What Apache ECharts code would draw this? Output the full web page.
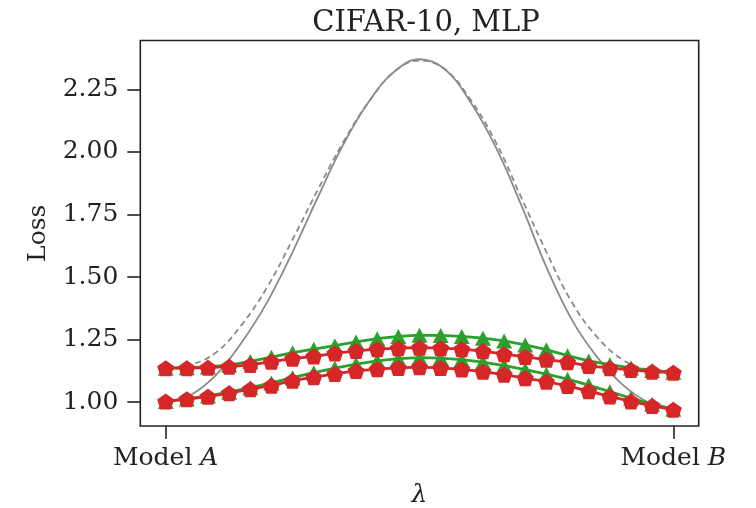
<!DOCTYPE html>
<html>
<head>
<meta charset="utf-8">
<script src="https://cdn.jsdelivr.net/npm/echarts@6/dist/echarts.min.js"></script>
<style>
html,body{margin:0;padding:0;background:#fff;}
#chart{width:756px;height:508px;}
</style>
</head>
<body>
<div id="chart"></div>
<script>
// ---- data ----
var title = 'CIFAR-10, MLP';
var yName = 'Loss';
var xName = 'λ';
var xTickValues = [0, 1];
var xTickModels = ['A', 'B'];
var yTickValues = [1.00, 1.25, 1.50, 1.75, 2.00, 2.25];

// interpolation positions for marker series (25 points from Model A to Model B)
var lambdas = [0, 0.0417, 0.0833, 0.125, 0.1667, 0.2083, 0.25, 0.2917, 0.3333, 0.375, 0.4167, 0.4583, 0.5,
               0.5417, 0.5833, 0.625, 0.6667, 0.7083, 0.75, 0.7917, 0.8333, 0.875, 0.9167, 0.9583, 1];

var greenUpper = [1.136, 1.138, 1.141, 1.148, 1.163, 1.180, 1.198, 1.212, 1.226, 1.241, 1.254, 1.263, 1.268,
                  1.267, 1.263, 1.256, 1.245, 1.229, 1.210, 1.186, 1.165, 1.150, 1.137, 1.127, 1.120];
var greenLower = [1.003, 1.013, 1.025, 1.040, 1.058, 1.077, 1.098, 1.118, 1.136, 1.152, 1.165, 1.174, 1.178,
                  1.176, 1.170, 1.160, 1.146, 1.130, 1.112, 1.092, 1.068, 1.042, 1.016, 0.992, 0.972];
var redUpper   = [1.136, 1.136, 1.138, 1.142, 1.149, 1.162, 1.174, 1.183, 1.195, 1.205, 1.212, 1.216, 1.218,
                  1.216, 1.212, 1.204, 1.192, 1.181, 1.170, 1.160, 1.145, 1.136, 1.129, 1.122, 1.118];
var redLower   = [1.003, 1.012, 1.022, 1.036, 1.052, 1.066, 1.086, 1.100, 1.113, 1.125, 1.132, 1.137, 1.140,
                  1.137, 1.131, 1.122, 1.110, 1.096, 1.082, 1.065, 1.044, 1.023, 1.003, 0.985, 0.970];

// naive interpolation curves (gray)
var grayLambdas = [0, 0.05, 0.10, 0.15, 0.20, 0.25, 0.30, 0.35, 0.40, 0.45, 0.50,
                   0.55, 0.60, 0.65, 0.70, 0.75, 0.80, 0.85, 0.90, 0.95, 1.00];
var graySolid  = [1.00, 1.03, 1.11, 1.24, 1.40, 1.60, 1.82, 2.03, 2.20, 2.32, 2.37,
                  2.33, 2.20, 2.02, 1.79, 1.54, 1.33, 1.18, 1.07, 1.00, 0.97];
var grayDashed = [1.135, 1.15, 1.20, 1.31, 1.46, 1.65, 1.85, 2.04, 2.20, 2.32, 2.365,
                  2.33, 2.21, 2.04, 1.82, 1.60, 1.40, 1.26, 1.17, 1.13, 1.12];

function pairs(xs, ys) { return xs.map(function (x, i) { return [x, ys[i]]; }); }

var FONT = 'DejaVu Serif';
var pentagon = 'path://M0,-1 L0.951,-0.309 L0.588,0.809 L-0.588,0.809 L-0.951,-0.309 Z';
var RED = '#d62728', GREEN = '#2ca02c', GRAY = '#8a8a8a';

var chart = echarts.init(document.getElementById('chart'), null, {renderer: 'canvas'});
chart.setOption({
  animation: false,
  backgroundColor: '#fff',
  title: {
    text: title, left: 421, top: 4, textAlign: 'center',
    textStyle: {fontFamily: FONT, fontSize: 29, fontWeight: 'normal', color: '#222'}
  },
  grid: {left: 140.3, right: 57.3, top: 40.5, bottom: 82, show: true,
         outerBoundsMode: 'none', containLabel: false,
         borderColor: '#222', borderWidth: 1.6, backgroundColor: 'transparent'},
  xAxis: {
    type: 'value', min: -0.05, max: 1.05,
    name: xName, nameLocation: 'middle', nameGap: 57,
    nameTextStyle: {fontFamily: FONT, fontSize: 25, fontStyle: 'italic', color: '#222'},
    axisLine: {show: false, onZero: false},
    splitLine: {show: false},
    axisTick: {show: true, length: 13, customValues: xTickValues, lineStyle: {color: '#222', width: 1.6}},
    axisLabel: {
      show: true, customValues: xTickValues, margin: 20,
      formatter: function (v) { var k = xTickValues.indexOf(v); return '{n|Model }{i|' + xTickModels[k] + '}'; },
      rich: {
        n: {fontFamily: FONT, fontSize: 25, color: '#222'},
        i: {fontFamily: FONT, fontSize: 25, fontStyle: 'italic', color: '#222'}
      }
    }
  },
  yAxis: {
    type: 'value', min: 0.905, max: 2.445,
    name: yName, nameLocation: 'middle', nameGap: 89, nameRotate: 90,
    nameTextStyle: {fontFamily: FONT, fontSize: 25, color: '#222'},
    axisLine: {show: false, onZero: false},
    splitLine: {show: false},
    axisTick: {show: true, length: 13, customValues: yTickValues, lineStyle: {color: '#222', width: 1.6}},
    axisLabel: {
      show: true, customValues: yTickValues, margin: 22,
      fontFamily: FONT, fontSize: 25, color: '#222',
      formatter: function (v) { return v.toFixed(2); }
    }
  },
  series: [
    {type: 'line', data: pairs(grayLambdas, graySolid), smooth: 0.4, showSymbol: false,
     lineStyle: {color: GRAY, width: 1.8}, z: 1},
    {type: 'line', data: pairs(grayLambdas, grayDashed), smooth: 0.4, showSymbol: false,
     lineStyle: {color: GRAY, width: 1.8, type: [6, 4]}, z: 1},
    {type: 'line', data: pairs(lambdas, greenUpper), symbol: 'triangle', symbolSize: [16, 15],
     lineStyle: {color: GREEN, width: 2.8}, itemStyle: {color: GREEN}, z: 2},
    {type: 'line', data: pairs(lambdas, greenLower), symbol: 'triangle', symbolSize: [16, 15],
     lineStyle: {color: GREEN, width: 2.8}, itemStyle: {color: GREEN}, z: 2},
    {type: 'line', data: pairs(lambdas, redUpper), symbol: pentagon, symbolSize: [17, 16],
     lineStyle: {color: RED, width: 2.8}, itemStyle: {color: RED}, z: 3},
    {type: 'line', data: pairs(lambdas, redLower), symbol: pentagon, symbolSize: [17, 16],
     lineStyle: {color: RED, width: 2.8}, itemStyle: {color: RED}, z: 3}
  ]
});
</script>
</body>
</html>
